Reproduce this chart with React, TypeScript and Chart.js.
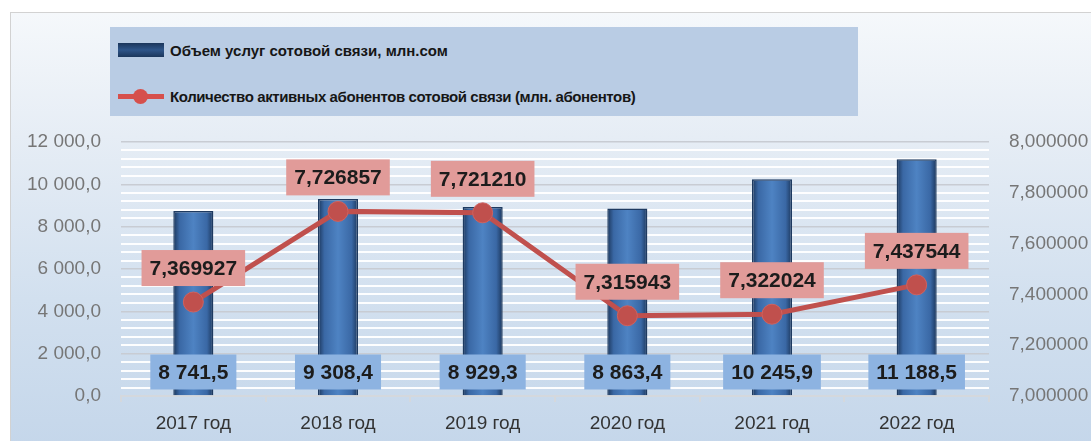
import React, { useEffect, useRef } from 'react';
import { Chart, registerables } from 'chart.js';

Chart.register(...registerables);

const categories = ['2017 год', '2018 год', '2019 год', '2020 год', '2021 год', '2022 год'];
const serviceVolume = [8741.5, 9308.4, 8929.3, 8863.4, 10245.9, 11188.5];
const activeSubscribers = [7.369927, 7.726857, 7.72121, 7.315943, 7.322024, 7.437544];
const seriesNames = [
  'Объем услуг сотовой связи, млн.сом',
  'Количество активных абонентов сотовой связи (млн. абонентов)',
];
const leftAxis = { min: 0, max: 12000, major: 2000, minor: 400 };
const rightAxis = { min: 7, max: 8, step: 0.2 };

const FONT = '"Liberation Sans", Arial, sans-serif';
const BAR_PCT = 0.277;

const fmtLeft = (v: number) => {
  const [i, d] = v.toFixed(1).split('.');
  return i.replace(/\B(?=(\d{3})+(?!\d))/g, ' ') + ',' + d;
};
const fmtRight = (v: number) => v.toFixed(6).replace('.', ',');

const labelPlugin = {
  id: 'boxLabels',
  afterDatasetsDraw(chart: any) {
    const ctx = chart.ctx;
    const yScale = chart.scales.y;
    ctx.save();
    ctx.font = `bold 21px ${FONT}`;
    ctx.textAlign = 'center';
    ctx.textBaseline = 'middle';
    const barMeta = chart.getDatasetMeta(0);
    barMeta.data.forEach((el: any, i: number) => {
      const text = fmtLeft(serviceVolume[i]);
      const w = ctx.measureText(text).width + 16;
      const h = 35;
      const cx = el.x;
      const cy = yScale.bottom - 24;
      ctx.fillStyle = '#8db3e1';
      ctx.fillRect(cx - w / 2, cy - h / 2, w, h);
      ctx.fillStyle = '#1c1c1c';
      ctx.fillText(text, cx, cy + 1);
    });
    const lineMeta = chart.getDatasetMeta(1);
    lineMeta.data.forEach((el: any, i: number) => {
      const text = fmtRight(activeSubscribers[i]);
      const w = ctx.measureText(text).width + 16;
      const h = 36;
      const cx = el.x;
      const cy = el.y - 34;
      ctx.fillStyle = '#e19b99';
      ctx.fillRect(cx - w / 2, cy - h / 2, w, h);
      ctx.fillStyle = '#1c1c1c';
      ctx.fillText(text, cx, cy + 1);
    });
    ctx.restore();
  },
};

export default function App() {
  const ref = useRef<HTMLCanvasElement>(null);

  useEffect(() => {
    if (!ref.current) return;
    const chart = new Chart(ref.current, {
      type: 'bar',
      data: {
        labels: categories,
        datasets: [
          {
            type: 'bar',
            label: seriesNames[0],
            data: serviceVolume,
            yAxisID: 'y',
            order: 1,
            barPercentage: BAR_PCT,
            categoryPercentage: 1,
            borderColor: '#1e3a60',
            borderWidth: 1.5,
            backgroundColor: (c: any) => {
              const chart = c.chart;
              const xs = chart.scales && chart.scales.x;
              if (!xs || c.dataIndex == null || !chart.chartArea) return '#4a7cbf';
              const x = xs.getPixelForValue(c.dataIndex);
              const half = (xs.width / categories.length) * BAR_PCT / 2;
              const g = chart.ctx.createLinearGradient(x - half, 0, x + half, 0);
              g.addColorStop(0, '#1b365b');
              g.addColorStop(0.16, '#3a68a5');
              g.addColorStop(0.5, '#4e83c3');
              g.addColorStop(0.84, '#3a68a5');
              g.addColorStop(1, '#1b365b');
              return g;
            },
          } as any,
          {
            type: 'line',
            label: seriesNames[1],
            data: activeSubscribers,
            yAxisID: 'y2',
            order: 0,
            borderColor: '#c0504d',
            borderWidth: 5,
            pointRadius: 10,
            pointBackgroundColor: '#c0504d',
            pointBorderColor: '#cf625f',
            pointBorderWidth: 1,
            tension: 0,
          } as any,
        ],
      },
      options: {
        animation: false,
        responsive: false,
        maintainAspectRatio: false,
        layout: { padding: { top: 142, left: 0, right: 0, bottom: 0 } },
        plugins: { legend: { display: false }, tooltip: { enabled: false } },
        scales: {
          x: {
            offset: true,
            grid: {
              offset: true,
              drawOnChartArea: false,
              drawTicks: true,
              tickLength: 6,
              color: '#d4d8dd',
              lineWidth: 2,
            },
            border: { display: true, color: '#d4d8dd', width: 2 },
            ticks: { color: '#333333', font: { family: FONT, size: 19 }, padding: 10 },
            afterFit: (s: any) => { s.height = 45; },
          },
          y: {
            position: 'left',
            min: leftAxis.min,
            max: leftAxis.max,
            ticks: {
              stepSize: leftAxis.minor,
              autoSkip: false,
              color: '#767676',
              font: { family: FONT, size: 19 },
              padding: 20,
              callback: (v: any) => (Number(v) % leftAxis.major === 0 ? fmtLeft(Number(v)) : ''),
            },
            grid: {
              drawTicks: false,
              color: (c: any) => (c.tick && c.tick.value % leftAxis.major === 0 ? '#c8ccd3' : 'rgba(255,255,255,0.95)'),
              lineWidth: (c: any) => (c.tick && c.tick.value % leftAxis.major === 0 ? 1.5 : 2),
            },
            border: { display: false },
            afterFit: (s: any) => { s.width = 121; },
          },
          y2: {
            position: 'right',
            min: rightAxis.min,
            max: rightAxis.max,
            ticks: {
              stepSize: rightAxis.step,
              color: '#767676',
              font: { family: FONT, size: 19 },
              padding: 20,
              callback: (v: any) => fmtRight(Number(v)),
            },
            grid: { drawOnChartArea: false, drawTicks: false },
            border: { display: false },
            afterFit: (s: any) => { s.width = 102; },
          },
        },
      } as any,
      plugins: [labelPlugin],
    });
    return () => chart.destroy();
  }, []);

  return (
    <div style={{ position: 'absolute', left: 0, top: 0, width: 1091, height: 441, overflow: 'hidden', fontFamily: FONT }}>
      <div
        style={{
          position: 'absolute',
          left: 10,
          top: 12,
          width: 1100,
          height: 440,
          borderTop: '1.5px solid #d2d2d2',
          borderLeft: '1.5px solid #d2d2d2',
          background: 'linear-gradient(180deg, #f5f8fb 0%, #e6edf5 28%, #d2e0ef 65%, #c4d6ea 100%)',
        }}
      />
      <div
        style={{
          position: 'absolute',
          left: 110,
          top: 27,
          width: 748,
          height: 89,
          background: '#b9cce4',
        }}
      >
        <div style={{ position: 'absolute', left: 8, top: 16, width: 46, height: 14, background: 'linear-gradient(180deg, #1b365b 0%, #2e5589 50%, #1b365b 100%)' }} />
        <div style={{ position: 'absolute', left: 60, top: 23, transform: 'translateY(-50%)', fontWeight: 'bold', fontSize: 15, color: '#161616', whiteSpace: 'nowrap' }}>
          {seriesNames[0]}
        </div>
        <div style={{ position: 'absolute', left: 8, top: 67, width: 46, height: 5, background: '#d6504c' }} />
        <div style={{ position: 'absolute', left: 23, top: 62, width: 15, height: 15, borderRadius: '50%', background: '#d6504c' }} />
        <div style={{ position: 'absolute', left: 60, top: 69, transform: 'translateY(-50%)', fontWeight: 'bold', fontSize: 15, letterSpacing: -0.4, color: '#161616', whiteSpace: 'nowrap' }}>
          {seriesNames[1]}
        </div>
      </div>
      <canvas ref={ref} width={1091} height={441} style={{ position: 'absolute', left: 0, top: 0, width: 1091, height: 441 }} />
    </div>
  );
}
